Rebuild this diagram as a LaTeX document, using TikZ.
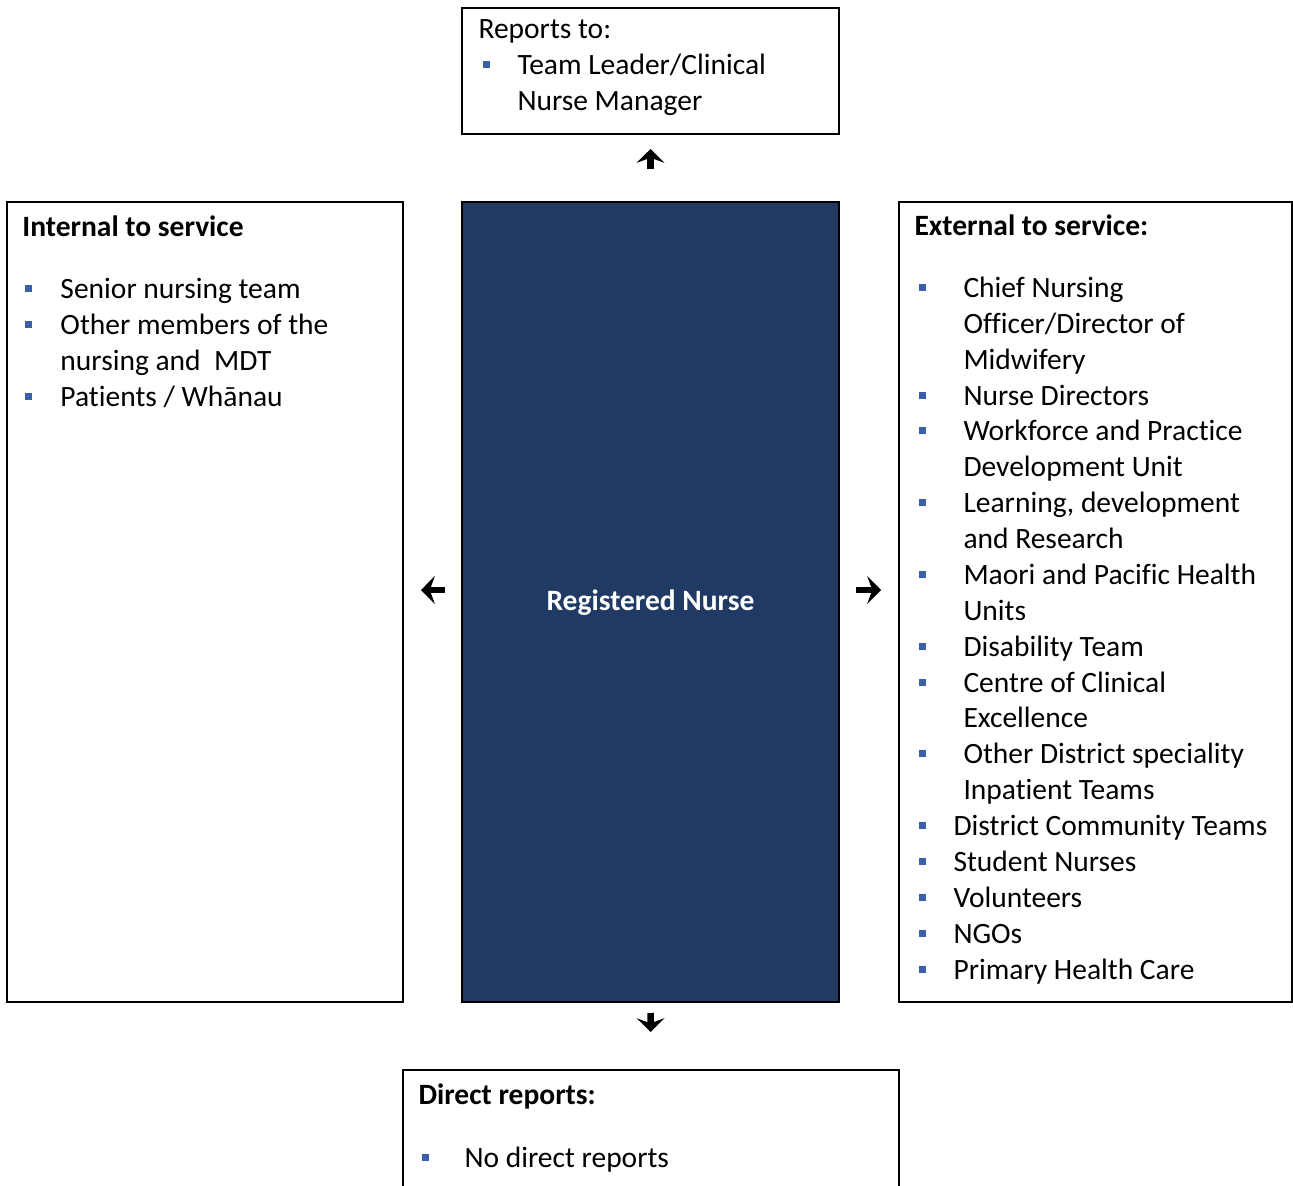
\documentclass[tikz,border=0pt]{standalone}
\usepackage{fontspec}
\setmainfont{Carlito}[Ligatures=NoCommon]
\usetikzlibrary{arrows.meta}
\definecolor{nurseblue}{RGB}{33,58,99}
\definecolor{bulletblue}{RGB}{58,95,170}
\newlength{\pxu}
\setlength{\pxu}{0.4pt}
\newcommand*{\sqbullet}{\textcolor{bulletblue}{\rule[2.6pt]{2.8pt}{2.8pt}}}
% bullet line and its continuation, #1 = indent in pixels, #2 = bullet offset
\newcommand*{\bitem}[3]{\makebox[#1\pxu][l]{\hspace*{#2\pxu}\sqbullet}#3}
\newcommand*{\bcont}[2]{\hspace*{#1\pxu}#2}
\tikzset{
    box/.style={draw, line width=0.8pt, inner sep=0pt},
    listtext/.style={anchor=base west, align=left, inner sep=0pt, font=\fontsize{11.8}{14.35}\selectfont},
    flowarrow/.style={line width=2.6pt, -{Stealth[length=5.5pt, width=11pt, inset=2pt]}}
}

\begin{document}
\begin{tikzpicture}[x=0.4pt, y=-0.4pt]
    \clip (0,0) rectangle (1293,1186);
    % boxes
    \node[box, minimum width=377*\pxu, minimum height=126*\pxu] (reports) at (650.5,71) {};
    \node[box, minimum width=396*\pxu, minimum height=800*\pxu] (internal) at (205,602) {};
    \node[box, fill=nurseblue, minimum width=377*\pxu, minimum height=800*\pxu] (nurse) at (650.5,602) {};
    \node[text=white, font=\fontsize{11.8}{14.35}\selectfont\bfseries, anchor=base] (nursetext) at (650.5,610) {Registered Nurse};
    \node[box, minimum width=393*\pxu, minimum height=800*\pxu] (external) at (1095.5,602) {};
    \node[box, minimum width=496*\pxu, minimum height=160*\pxu] (direct) at (651,1150) {};
    % reports to (placed at the baseline of the last line)
    \node[listtext] (reportstext) at (478,110) {Reports to:\\
        \bitem{39}{4}{Team Leader/Clinical}\\
        \bcont{39}{Nurse Manager}};
    % internal to service
    \node[listtext] (internaltext) at (22,406) {\textbf{Internal to service}\\[26\pxu]
        \bitem{38}{3}{Senior nursing team}\\
        \bitem{38}{3}{Other members of the}\\
        \bcont{38}{nursing and\ \ MDT}\\
        \bitem{38}{3}{Patients / Whānau}};
    % external to service
    \node[listtext] (externaltext) at (914,979) {\textbf{External to service:}\\[26\pxu]
        \bitem{49}{4}{Chief Nursing}\\
        \bcont{49}{Officer/Director of}\\
        \bcont{49}{Midwifery}\\
        \bitem{49}{4}{Nurse Directors}\\
        \bitem{49}{4}{Workforce and Practice}\\
        \bcont{49}{Development Unit}\\
        \bitem{49}{4}{Learning, development}\\
        \bcont{49}{and Research}\\
        \bitem{49}{4}{Maori and Pacific Health}\\
        \bcont{49}{Units}\\
        \bitem{49}{4}{Disability Team}\\
        \bitem{49}{4}{Centre of Clinical}\\
        \bcont{49}{Excellence}\\
        \bitem{49}{4}{Other District speciality}\\
        \bcont{49}{Inpatient Teams}\\
        \bitem{39}{4}{District Community Teams}\\
        \bitem{39}{4}{Student Nurses}\\
        \bitem{39}{4}{Volunteers}\\
        \bitem{39}{4}{NGOs}\\
        \bitem{39}{4}{Primary Health Care}};
    % direct reports
    \node[listtext] (directtext) at (418,1167) {\textbf{Direct reports:}\\[27\pxu]
        \bitem{46}{3}{No direct reports}};
    % arrows
    \draw[flowarrow, shorten <=32*\pxu, shorten >=14*\pxu] (nurse.north) -- (reports.south);
    \draw[flowarrow, shorten <=16*\pxu, shorten >=17*\pxu] ([yshift=12*\pxu]nurse.west) -- ([yshift=12*\pxu]internal.east);
    \draw[flowarrow, shorten <=16*\pxu, shorten >=17*\pxu] ([yshift=12*\pxu]nurse.east) -- ([yshift=12*\pxu]external.west);
    \draw[flowarrow, shorten <=10*\pxu, shorten >=37*\pxu] (nurse.south) -- (direct.north);
\end{tikzpicture}
\end{document}
